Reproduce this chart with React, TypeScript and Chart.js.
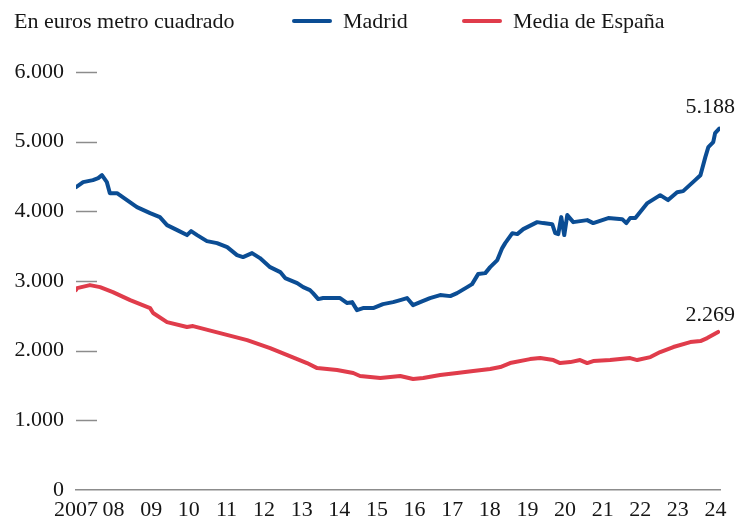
import React, { useEffect, useRef } from 'react';
import { Chart, registerables } from 'chart.js';

Chart.register(...registerables);

// ---- Data ----
const unitLabel = 'En euros metro cuadrado';
const seriesNames = ['Madrid', 'Media de España'];
const seriesColors = ['#0b4d94', '#e03c4b'];

const yearTicks = [2007, 2008, 2009, 2010, 2011, 2012, 2013, 2014, 2015, 2016, 2017, 2018, 2019, 2020, 2021, 2022, 2023, 2024];
const yTicks = [0, 1000, 2000, 3000, 4000, 5000, 6000];

const madridYears = [
  2007.0, 2007.19, 2007.45, 2007.59, 2007.69, 2007.82, 2007.9, 2008.09, 2008.62, 2008.97,
  2009.23, 2009.42, 2009.69, 2009.95, 2010.06, 2010.22, 2010.48, 2010.75, 2011.02, 2011.28,
  2011.44, 2011.68, 2011.89, 2012.16, 2012.43, 2012.56, 2012.88, 2013.04, 2013.22, 2013.3,
  2013.44, 2013.57, 2014.02, 2014.21, 2014.34, 2014.47, 2014.63, 2014.9, 2015.16, 2015.43,
  2015.62, 2015.8, 2015.96, 2016.15, 2016.41, 2016.68, 2016.95, 2017.13, 2017.4, 2017.53,
  2017.69, 2017.88, 2018.01, 2018.2, 2018.33, 2018.41, 2018.6, 2018.73, 2018.89, 2019.26,
  2019.42, 2019.66, 2019.74, 2019.82, 2019.9, 2019.98, 2020.06, 2020.22, 2020.59, 2020.75,
  2021.15, 2021.52, 2021.63, 2021.73, 2021.87, 2022.19, 2022.53, 2022.74, 2022.98, 2023.14,
  2023.46, 2023.6, 2023.73, 2023.81, 2023.94, 2023.99, 2024.1,
];
const madridValues = [
  4347, 4419, 4448, 4476, 4519, 4419, 4261, 4261, 4060, 3974,
  3917, 3802, 3730, 3659, 3716, 3659, 3572, 3544, 3486, 3372,
  3343, 3400, 3329, 3199, 3128, 3042, 2970, 2912, 2869, 2826,
  2740, 2755, 2755, 2683, 2697, 2582, 2611, 2611, 2668, 2697,
  2726, 2755, 2654, 2697, 2755, 2798, 2783, 2826, 2912, 2955,
  3099, 3113, 3199, 3300, 3472, 3544, 3687, 3673, 3745, 3845,
  3831, 3816, 3687, 3673, 3917, 3659, 3946, 3845, 3874, 3831,
  3903, 3888, 3831, 3903, 3903, 4118, 4232, 4161, 4275, 4290,
  4448, 4519, 4778, 4921, 4993, 5122, 5188,
];

const spainYears = [
  2007.0, 2007.03, 2007.37, 2007.64, 2007.98, 2008.44, 2008.97, 2009.05, 2009.42, 2009.95,
  2010.11, 2010.83, 2011.55, 2012.16, 2012.88, 2013.14, 2013.41, 2013.94, 2014.37, 2014.55,
  2015.09, 2015.62, 2015.96, 2016.23, 2016.68, 2017.13, 2017.56, 2018.01, 2018.28, 2018.54,
  2019.07, 2019.34, 2019.69, 2019.87, 2020.14, 2020.4, 2020.59, 2020.75, 2021.2, 2021.73,
  2021.92, 2022.27, 2022.53, 2022.88, 2023.33, 2023.6, 2023.78, 2024.07,
];
const spainValues = [
  2869, 2898, 2941, 2912, 2841, 2726, 2611, 2540, 2410, 2339,
  2353, 2252, 2152, 2037, 1879, 1822, 1750, 1722, 1679, 1636,
  1607, 1636, 1593, 1607, 1650, 1679, 1707, 1736, 1765, 1822,
  1879, 1894, 1865, 1822, 1836, 1865, 1822, 1851, 1865, 1894,
  1865, 1908, 1980, 2052, 2123, 2138, 2181, 2269,
];

const FONT = '"Liberation Serif", "Times New Roman", serif';
const TEXT = '#161616';
const TICK_GREY = '#8c8c8c';

const fmt = (v: number) => String(Math.round(v)).replace(/\B(?=(\d{3})+(?!\d))/g, '.');

const headerPlugin = {
  id: 'header',
  afterDraw(chart: any) {
    const ctx = chart.ctx;
    ctx.save();
    ctx.font = `22px ${FONT}`;
    ctx.fillStyle = TEXT;
    ctx.textBaseline = 'alphabetic';
    ctx.textAlign = 'left';
    ctx.fillText(unitLabel, 14, 28);
    const items = [
      { x: 292, name: seriesNames[0], color: seriesColors[0] },
      { x: 462, name: seriesNames[1], color: seriesColors[1] },
    ];
    items.forEach((it) => {
      ctx.strokeStyle = it.color;
      ctx.lineWidth = 4;
      ctx.lineCap = 'round';
      ctx.beginPath();
      ctx.moveTo(it.x + 2, 21);
      ctx.lineTo(it.x + 38, 21);
      ctx.stroke();
      ctx.fillStyle = TEXT;
      ctx.fillText(it.name, it.x + 51, 28);
    });
    ctx.restore();
  },
};

const tickDashPlugin = {
  id: 'tickDash',
  beforeDatasetsDraw(chart: any) {
    const ctx = chart.ctx;
    const ys = chart.scales.y;
    const left = chart.chartArea.left;
    ctx.save();
    ctx.strokeStyle = TICK_GREY;
    ctx.lineWidth = 1.5;
    yTicks.forEach((v) => {
      if (v === 0) return;
      const py = Math.round(ys.getPixelForValue(v)) + 0.5;
      ctx.beginPath();
      ctx.moveTo(left, py);
      ctx.lineTo(left + 21, py);
      ctx.stroke();
    });
    ctx.restore();
  },
};

const endLabelPlugin = {
  id: 'endLabels',
  afterDatasetsDraw(chart: any) {
    const ctx = chart.ctx;
    const offsets = [16, 11];
    ctx.save();
    ctx.font = `22px ${FONT}`;
    ctx.fillStyle = TEXT;
    ctx.textAlign = 'right';
    ctx.textBaseline = 'alphabetic';
    chart.data.datasets.forEach((ds: any, i: number) => {
      const meta = chart.getDatasetMeta(i);
      const last = meta.data[meta.data.length - 1];
      const val = ds.data[ds.data.length - 1].y;
      ctx.fillText(fmt(val), chart.width - 2, last.y - offsets[i]);
    });
    ctx.restore();
  },
};

export default function App() {
  const ref = useRef<HTMLCanvasElement | null>(null);

  useEffect(() => {
    document.body.style.margin = '0';
    const canvas = ref.current;
    if (!canvas) return;
    const chart = new Chart(canvas, {
      type: 'line',
      data: {
        datasets: [
          {
            label: seriesNames[0],
            data: madridYears.map((x, i) => ({ x, y: madridValues[i] })),
            borderColor: seriesColors[0],
            backgroundColor: seriesColors[0],
            borderWidth: 4,
            pointRadius: 0,
            tension: 0,
            borderCapStyle: 'round',
            borderJoinStyle: 'round',
          },
          {
            label: seriesNames[1],
            data: spainYears.map((x, i) => ({ x, y: spainValues[i] })),
            borderColor: seriesColors[1],
            backgroundColor: seriesColors[1],
            borderWidth: 4,
            pointRadius: 0,
            tension: 0,
            borderCapStyle: 'round',
            borderJoinStyle: 'round',
          },
        ],
      },
      options: {
        responsive: false,
        animation: false,
        devicePixelRatio: 1,
        layout: { padding: { top: 72, right: 17, left: 0, bottom: 0 } },
        plugins: {
          legend: { display: false },
          tooltip: { enabled: false },
        },
        scales: {
          x: {
            type: 'linear',
            min: 2007,
            max: 2024.12,
            afterBuildTicks: (scale: any) => {
              scale.ticks = yearTicks.map((v) => ({ value: v }));
            },
            afterFit: (scale: any) => {
              scale.height = 31;
            },
            grid: { display: false, drawTicks: false },
            border: { display: true, color: TICK_GREY, width: 1.5 },
            ticks: {
              autoSkip: false,
              maxRotation: 0,
              padding: 7,
              color: TEXT,
              font: { family: FONT, size: 22 },
              callback: (v: any) => (v === 2007 ? '2007' : String(v).slice(2)),
            },
          },
          y: {
            min: 0,
            max: 6000,
            afterBuildTicks: (scale: any) => {
              scale.ticks = yTicks.map((v) => ({ value: v }));
            },
            afterFit: (scale: any) => {
              scale.width = 76;
            },
            grid: { display: false, drawTicks: false },
            border: { display: false },
            ticks: {
              padding: 12,
              color: TEXT,
              font: { family: FONT, size: 22 },
              callback: (v: any) => fmt(Number(v)),
            },
          },
        },
      },
      plugins: [tickDashPlugin, endLabelPlugin, headerPlugin],
    } as any);
    return () => chart.destroy();
  }, []);

  return (
    <div style={{ width: 737, height: 521, background: '#fff' }}>
      <canvas ref={ref} width={737} height={521} style={{ display: 'block' }} />
    </div>
  );
}
